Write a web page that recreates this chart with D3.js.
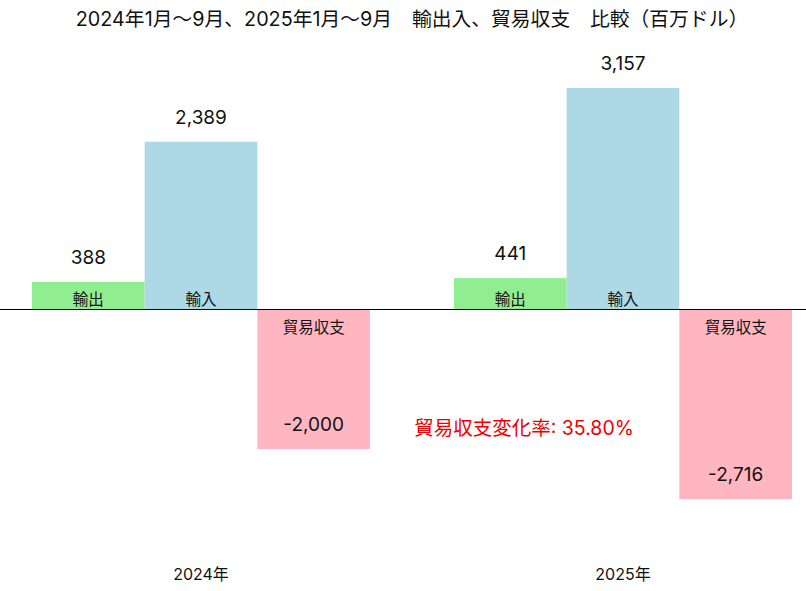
<!DOCTYPE html>
<html><head><meta charset="utf-8">
<script src="https://cdn.jsdelivr.net/npm/d3@7"></script>
<style>body{margin:0;background:#fff;} svg{display:block;}</style>
</head><body>
<script>
const years = ["2024年", "2025年"];
const series = ["輸出", "輸入", "貿易収支"];
const exports_ = [388, 441];
const imports_ = [2389, 3157];
const balance = [-2000, -2716];
const colors = ["#90EE90", "#ADD8E6", "#FFB6C1"];
const title = "2024年1月～9月、2025年1月～9月　輸出入、貿易収支　比較（百万ドル）";
const note = "貿易収支変化率: 35.80%";

const W = 806, H = 591;
const svg = d3.select("body").append("svg").attr("width", W).attr("height", H);
const font = "Inter, 'Noto Sans CJK JP', sans-serif";

const values = [exports_, imports_, balance];
const x0 = d3.scaleBand().domain(years).range([-10, 834]).paddingInner(0.199).paddingOuter(0.0995);
const x1 = d3.scaleBand().domain(series).range([0, x0.bandwidth()]);
const y = d3.scaleLinear().domain([-3500, 3500]).range([554, 64]);

const data = [];
years.forEach((yr, i) => series.forEach((s, j) => data.push({yr, s, j, v: values[j][i]})));

svg.selectAll("rect.bar").data(data).enter().append("rect")
  .attr("x", d => x0(d.yr) + x1(d.s))
  .attr("width", x1.bandwidth())
  .attr("y", d => y(Math.max(0, d.v)))
  .attr("height", d => Math.abs(y(d.v) - y(0)))
  .attr("fill", d => colors[d.j]);

svg.append("line").attr("x1", 0).attr("x2", W).attr("y1", y(0) + 0.5).attr("y2", y(0) + 0.5)
  .attr("stroke", "#000").attr("stroke-width", 1.2);

const fmt = v => d3.format(",")(v).replace("\u2212", "-");
// value labels
svg.selectAll("text.val").data(data).enter().append("text")
  .attr("x", d => x0(d.yr) + x1(d.s) + x1.bandwidth() / 2)
  .attr("y", d => y(d.v) - 18)
  .attr("text-anchor", "middle")
  .attr("font-family", font).attr("font-size", 19).attr("fill", "#111")
  .text(d => fmt(d.v));
// category labels in bars
svg.selectAll("text.cat").data(data).enter().append("text")
  .attr("x", d => x0(d.yr) + x1(d.s) + x1.bandwidth() / 2)
  .attr("y", d => d.v >= 0 ? y(0) - 4 : y(0) + 24)
  .attr("text-anchor", "middle")
  .attr("font-family", font).attr("font-size", 15.5).attr("fill", "#111")
  .text(d => d.s);
// year labels
svg.selectAll("text.yr").data(years).enter().append("text")
  .attr("x", d => x0(d) + x0.bandwidth() / 2)
  .attr("y", 580)
  .attr("text-anchor", "middle")
  .attr("font-family", font).attr("font-size", 16).attr("fill", "#111")
  .text(d => d);

svg.append("text").attr("x", 524).attr("y", 435).attr("text-anchor", "middle")
  .attr("font-family", font).attr("font-size", 19.5).attr("fill", "#ee0000").text(note);

svg.append("text").attr("x", 412).attr("y", 26).attr("text-anchor", "middle")
  .attr("font-family", font).attr("font-size", 19.8).attr("fill", "#111").text(title);
</script>
</body></html>
